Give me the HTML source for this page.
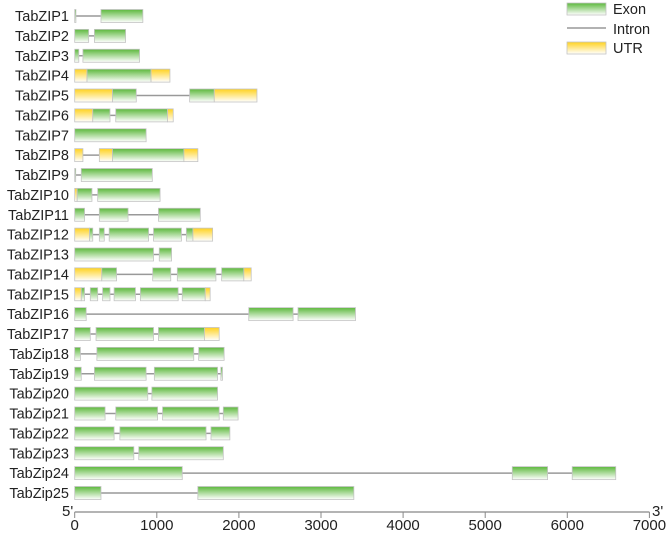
<!DOCTYPE html>
<html><head><meta charset="utf-8"><style>
body{margin:0;background:#fff}
svg{display:block;font-family:"Liberation Sans",sans-serif}
</style></head><body>
<svg id="c" width="668" height="535">
<defs>
<linearGradient id="gE" x1="0" y1="0" x2="0" y2="1"><stop offset="0" stop-color="#5cb83c"/><stop offset="1" stop-color="#ffffff"/></linearGradient>
<linearGradient id="gU" x1="0" y1="0" x2="0" y2="1"><stop offset="0" stop-color="#ffd21f"/><stop offset="1" stop-color="#ffffff"/></linearGradient>
</defs>
</svg>
<script>
const genes=["TabZIP1","TabZIP2","TabZIP3","TabZIP4","TabZIP5","TabZIP6","TabZIP7","TabZIP8","TabZIP9","TabZIP10","TabZIP11","TabZIP12","TabZIP13","TabZIP14","TabZIP15","TabZIP16","TabZIP17","TabZip18","TabZip19","TabZip20","TabZip21","TabZip22","TabZip23","TabZip24","TabZip25"];
// segments: [start,end,type] type E=exon U=UTR
const segments=[
[[0,15,"E"],[320,830,"E"]],
[[0,170,"E"],[240,620,"E"]],
[[0,50,"E"],[100,790,"E"]],
[[0,150,"U"],[150,930,"E"],[930,1160,"U"]],
[[0,460,"U"],[460,750,"E"],[1400,1700,"E"],[1700,2220,"U"]],
[[0,220,"U"],[220,430,"E"],[500,1130,"E"],[1130,1200,"U"]],
[[0,870,"E"]],
[[0,100,"U"],[300,460,"U"],[460,1330,"E"],[1330,1500,"U"]],
[[0,10,"E"],[80,945,"E"]],
[[0,30,"U"],[30,210,"E"],[280,1040,"E"]],
[[0,120,"E"],[300,650,"E"],[1020,1530,"E"]],
[[0,180,"U"],[180,220,"E"],[300,360,"E"],[420,900,"E"],[960,1300,"E"],[1360,1440,"E"],[1440,1680,"U"]],
[[0,960,"E"],[1030,1180,"E"]],
[[0,330,"U"],[330,510,"E"],[950,1170,"E"],[1250,1720,"E"],[1790,2060,"E"],[2060,2150,"U"]],
[[0,80,"U"],[80,120,"E"],[190,280,"E"],[340,430,"E"],[480,740,"E"],[800,1260,"E"],[1310,1590,"E"],[1590,1650,"U"]],
[[0,140,"E"],[2120,2660,"E"],[2720,3420,"E"]],
[[0,190,"E"],[260,960,"E"],[1020,1580,"E"],[1580,1760,"U"]],
[[0,70,"E"],[270,1450,"E"],[1510,1820,"E"]],
[[0,80,"E"],[240,870,"E"],[970,1740,"E"],[1780,1800,"E"]],
[[0,890,"E"],[940,1740,"E"]],
[[0,370,"E"],[500,1010,"E"],[1070,1760,"E"],[1810,1990,"E"]],
[[0,480,"E"],[550,1600,"E"],[1660,1890,"E"]],
[[0,720,"E"],[780,1810,"E"]],
[[0,1310,"E"],[5330,5760,"E"],[6060,6590,"E"]],
[[0,320,"E"],[1500,3400,"E"]]
];
const ticks=[0,1000,2000,3000,4000,5000,6000,7000];
const NS="http://www.w3.org/2000/svg";
const svg=document.getElementById("c");
const x=v=>74.7+v*0.0821;
const y=i=>16+i*19.875;
function mk(t,a,p){const e=document.createElementNS(NS,t);for(const k in a)e.setAttribute(k,a[k]);(p||svg).appendChild(e);return e;}
genes.forEach((g,i)=>{
  const grp=mk("g",{});
  
  
  const t=mk("text",{x:69,y:y(i)+5,"text-anchor":"end","font-size":14.5,fill:"#222"},grp);t.textContent=g;
  const s=segments[i];const end=s[s.length-1][1];
  const ln=mk("line",{x1:x(0),x2:x(end),y1:y(i),y2:y(i),stroke:"#999","stroke-width":1.5},grp);
  
  
  s.forEach(seg=>{
    const r=mk("rect",{x:x(seg[0]),y:y(i)-6.5,width:Math.max(1,x(seg[1])-x(seg[0])),height:13,fill:seg[2]=="E"?"url(#gE)":"url(#gU)",stroke:"#c4c4c4","stroke-width":0.8},grp);
    
    
  });
});
const ax=mk("line",{x1:x(0),x2:x(7000),y1:512,y2:512,stroke:"#888","stroke-width":1.2});


ticks.forEach(v=>{
  mk("line",{x1:x(v),x2:x(v),y1:512,y2:518,stroke:"#888"});
  const t=mk("text",{x:x(v),y:530,"text-anchor":"middle","font-size":15,fill:"#222"});
  
  
  t.textContent=v;
});
const p5=mk("text",{x:62,y:516,"font-size":15,fill:"#222"});p5.textContent="5'";


const p3=mk("text",{x:652,y:516,"font-size":15,fill:"#222"});p3.textContent="3'";


// legend
const lg=mk("g",{});


mk("rect",{x:567,y:3,width:39,height:12,fill:"url(#gE)",stroke:"#c4c4c4","stroke-width":0.8},lg);
mk("line",{x1:567,x2:606,y1:28,y2:28,stroke:"#999","stroke-width":1.5},lg);
mk("rect",{x:567,y:42,width:39,height:12,fill:"url(#gU)",stroke:"#c4c4c4","stroke-width":0.8},lg);
[["Exon",14],["Intron",34],["UTR",53]].forEach(a=>{const t=mk("text",{x:613,y:a[1],"font-size":14.5,fill:"#222"},lg);t.textContent=a[0];});
</script>
</body></html>
